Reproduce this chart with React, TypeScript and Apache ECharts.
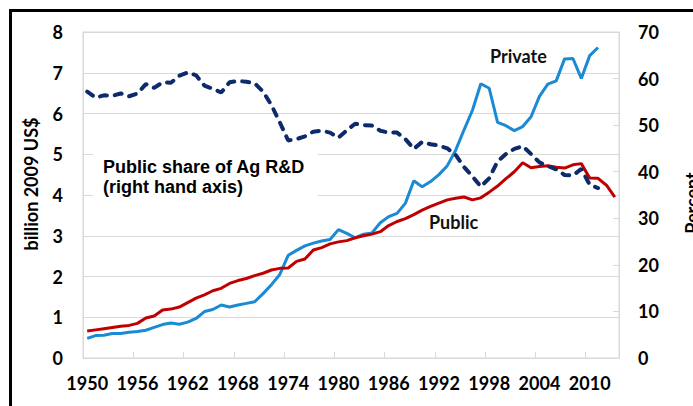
import React, { useEffect, useRef } from "react";
import * as echarts from "echarts";

const years: string[] = [];
for (let y = 1950; y <= 2013; y++) years.push(String(y));

// billion 2009 US$
const publicSpend = [
  0.66, 0.69, 0.72, 0.75, 0.78, 0.80, 0.85, 0.98, 1.03, 1.18,
  1.20, 1.25, 1.36, 1.47, 1.55, 1.65, 1.71, 1.83, 1.90, 1.95,
  2.02, 2.08, 2.16, 2.20, 2.21, 2.37, 2.43, 2.65, 2.71, 2.80,
  2.85, 2.88, 2.95, 3.00, 3.04, 3.10, 3.25, 3.35, 3.42, 3.52,
  3.63, 3.72, 3.80, 3.88, 3.92, 3.95, 3.88, 3.93, 4.07, 4.22,
  4.40, 4.57, 4.79, 4.67, 4.70, 4.72, 4.68, 4.66, 4.74, 4.77,
  4.42, 4.41, 4.24, 3.95,
];

const privateSpend = [
  0.48, 0.55, 0.56, 0.60, 0.60, 0.63, 0.65, 0.68, 0.75, 0.82,
  0.86, 0.83, 0.88, 0.97, 1.14, 1.19, 1.30, 1.25, 1.30, 1.34,
  1.38, 1.58, 1.80, 2.05, 2.52, 2.64, 2.75, 2.82, 2.87, 2.91,
  3.15, 3.06, 2.95, 3.04, 3.07, 3.32, 3.47, 3.55, 3.80, 4.35,
  4.20, 4.33, 4.50, 4.72, 5.10, 5.60, 6.08, 6.73, 6.62, 5.78,
  5.70, 5.58, 5.68, 5.92, 6.42, 6.72, 6.80, 7.34, 7.35, 6.86,
  7.42, 7.62, null, null,
];

// percent (right hand axis)
const publicShare = [
  57.2, 55.9, 56.4, 56.3, 56.8, 56.2, 56.8, 58.8, 58.0, 59.2,
  59.1, 60.6, 61.3, 60.7, 58.5, 57.8, 57.0, 59.2, 59.5, 59.3,
  59.0, 57.2, 54.3, 50.6, 46.7, 47.0, 47.6, 48.6, 48.8, 48.4,
  47.3, 48.9, 50.3, 50.0, 49.9, 48.8, 48.4, 48.4, 47.0, 44.9,
  46.4, 45.9, 45.6, 45.0, 43.6, 41.0, 39.0, 36.8, 38.6, 42.2,
  43.8, 44.9, 45.5, 43.8, 42.0, 41.2, 40.5, 39.3, 39.2, 40.6,
  37.2, 36.5, null, null,
];

const leftTicks = { min: 0, max: 8, interval: 1 };
const rightTicks = { min: 0, max: 70, interval: 10 };

const FONT = "Lato";
const GRID_COLOR = "#d9d9d9";

export default function App() {
  const ref = useRef<HTMLDivElement>(null);

  useEffect(() => {
    if (!ref.current) return;
    const chart = echarts.init(ref.current, null, { renderer: "svg" });
    const labelStyle = {
      color: "#000",
      fontFamily: FONT,
      fontWeight: "bold" as const,
      fontSize: 18,
    };
    chart.setOption({
      animation: false,
      backgroundColor: "#fff",
      grid: {
        left: 83,
        top: 32,
        right: 74,
        bottom: 48,
        show: true,
        borderColor: GRID_COLOR,
        borderWidth: 1,
      },
      xAxis: {
        type: "category",
        data: years,
        boundaryGap: true,
        axisLine: { show: true, lineStyle: { color: GRID_COLOR, width: 1 } },
        axisTick: {
          show: true,
          inside: true,
          interval: 5,
          length: 6,
          lineStyle: { color: GRID_COLOR },
        },
        axisLabel: { ...labelStyle, interval: 5, margin: 16 },
        splitLine: { show: false },
      },
      yAxis: [
        {
          type: "value",
          min: leftTicks.min,
          max: leftTicks.max,
          interval: leftTicks.interval,
          position: "left",
          axisLine: { show: true, lineStyle: { color: GRID_COLOR } },
          axisTick: { show: false },
          axisLabel: { ...labelStyle, margin: 20 },
          splitLine: { show: true, lineStyle: { color: GRID_COLOR, width: 1 } },
        },
        {
          type: "value",
          min: rightTicks.min,
          max: rightTicks.max,
          interval: rightTicks.interval,
          position: "right",
          axisLine: { show: true, lineStyle: { color: GRID_COLOR } },
          axisTick: {
            show: true,
            inside: true,
            length: 6,
            lineStyle: { color: GRID_COLOR },
          },
          axisLabel: { ...labelStyle, margin: 19 },
          splitLine: { show: false },
        },
      ],
      series: [
        {
          name: "Private",
          type: "line",
          data: privateSpend,
          yAxisIndex: 0,
          symbol: "none",
          lineStyle: { color: "#1a8ad4", width: 3 },
          z: 2,
        },
        {
          name: "Public",
          type: "line",
          data: publicSpend,
          yAxisIndex: 0,
          symbol: "none",
          lineStyle: { color: "#c00000", width: 3 },
          z: 3,
        },
        {
          name: "Public share",
          type: "line",
          data: publicShare,
          yAxisIndex: 1,
          symbol: "none",
          lineStyle: {
            color: "#0d2b6b",
            width: 4,
            type: [7, 8],
            cap: "round",
          },
          z: 4,
        },
      ],
      graphic: [
        {
          type: "rect",
          shape: { x: 93, y: 143, width: 225, height: 57 },
          style: { fill: "#fff" },
          z: 1,
          silent: true,
        },
        {
          type: "text",
          x: 103,
          y: 167,
          z: 10,
          style: {
            text: "Public share of Ag R&D",
            fill: "#000",
            font: "bold 18px 'Liberation Sans', Arial, sans-serif",
            textVerticalAlign: "middle",
          },
        },
        {
          type: "text",
          x: 103,
          y: 187,
          z: 10,
          style: {
            text: "(right hand axis)",
            fill: "#000",
            font: "bold 18px 'Liberation Sans', Arial, sans-serif",
            textVerticalAlign: "middle",
          },
        },
        {
          type: "text",
          x: 490,
          y: 56,
          z: 10,
          style: {
            text: "Private",
            fill: "#111",
            font: "bold 18px Lato, sans-serif",
            textVerticalAlign: "middle",
          },
        },
        {
          type: "text",
          x: 429,
          y: 222,
          z: 10,
          style: {
            text: "Public",
            fill: "#111",
            font: "bold 18px Lato, sans-serif",
            textVerticalAlign: "middle",
          },
        },
        {
          type: "text",
          x: 31,
          y: 184,
          rotation: Math.PI / 2,
          z: 10,
          style: {
            text: "billion 2009 US$",
            fill: "#000",
            font: "bold 18px Lato, sans-serif",
            textAlign: "center",
            textVerticalAlign: "middle",
          },
        },
        {
          type: "text",
          x: 692,
          y: 203,
          rotation: Math.PI / 2,
          z: 10,
          style: {
            text: "Percent",
            fill: "#000",
            font: "bold 18px Lato, sans-serif",
            textAlign: "center",
            textVerticalAlign: "middle",
          },
        },
        {
          type: "rect",
          shape: { x: 10.5, y: 10.5, width: 800, height: 500 },
          style: { fill: "none", stroke: "#000", lineWidth: 3 },
          z: 20,
          silent: true,
        },
      ],
    });
    return () => chart.dispose();
  }, []);

  return (
    <div
      ref={ref}
      style={{ position: "fixed", left: 0, top: 0, width: 693, height: 406 }}
    />
  );
}
